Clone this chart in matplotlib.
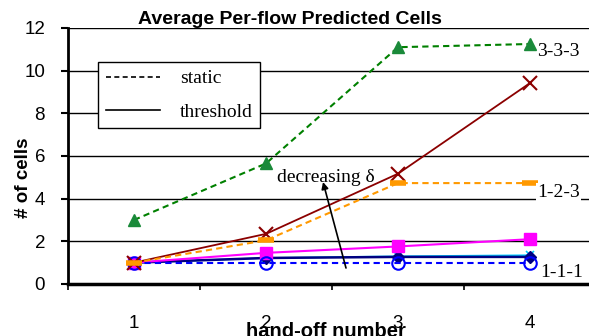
import matplotlib.pyplot as plt
from matplotlib.lines import Line2D

# hand-off number on x, predicted cells on y
handoffs = [1, 2, 3, 4]
static_333 = [3.0, 5.65, 11.1, 11.25]
static_123 = [1.0, 2.05, 4.73, 4.73]
static_111 = [1.0, 1.0, 1.0, 1.0]
thresh_a = [1.0, 2.35, 5.17, 9.42]
thresh_b = [1.0, 1.46, 1.76, 2.1]
thresh_c = [1.0, 1.22, 1.27, 1.27]
thresh_d = [1.0, 1.22, 1.3, 1.35]
yticks = [0, 2, 4, 6, 8, 10, 12]

plt.rcParams['font.family'] = 'Liberation Sans'
serif = 'Liberation Serif'

fig = plt.figure(figsize=(5.89, 3.36), dpi=100)
ax = fig.add_axes([68 / 589, 52 / 336, 528 / 589, 256 / 336])

for y in yticks[1:]:
    ax.axhline(y, color='black', lw=1.0, zorder=1)

ax.plot(handoffs, thresh_d, color='#00ccff', lw=1.2, marker='x', ms=6,
        mew=1.2, zorder=2)
ax.plot(handoffs, thresh_c, color='#000080', lw=1.8, marker='D', ms=6,
        mfc='#000080', mec='#000080', zorder=2.5)
ax.plot(handoffs, thresh_b, color='#ff00ff', lw=1.5, marker='s', ms=9,
        mfc='#ff00ff', mec='#ff00ff', zorder=3)
ax.plot(handoffs, static_111, color='#0000ff', lw=1.5, ls=(0, (3, 2)),
        marker='o', ms=9, mfc='none', mec='#0000ff', mew=1.5, zorder=4)
ax.plot(handoffs, thresh_a, color='#8b0000', lw=1.3, marker='x', ms=10,
        mew=1.5, zorder=4)
ax.plot(handoffs, static_123, color='#ff9900', lw=1.5, ls=(0, (3, 2)),
        marker='_', ms=11, mew=4, mec='#ff9900', zorder=5)
ax.plot(handoffs, static_333, color='#008000', lw=1.5, ls=(0, (3, 2)),
        marker='^', ms=9, mfc='#1a8a3a', mec='#1a8a3a', zorder=5)

ax.set_xlim(0.5, 4.5)
ax.set_ylim(0, 12)
ax.set_yticks(yticks)
ax.tick_params(axis='y', direction='out', length=5, width=1.5, pad=11.5, labelsize=13.5)

ax.set_xticks([0.5, 1.5, 2.5, 3.5, 4.5])
ax.set_xticklabels([])
ax.set_xticks(handoffs, minor=True)
ax.set_xticklabels([str(h) for h in handoffs], minor=True)
ax.tick_params(axis='x', which='major', direction='out', length=4, width=1.2)
ax.tick_params(axis='x', which='minor', length=0, pad=22, labelsize=13.5)

for side in ['top', 'right']:
    ax.spines[side].set_visible(False)
ax.spines['left'].set_linewidth(2)
ax.spines['bottom'].set_linewidth(2.5)

ax.set_xlabel('hand-off number', fontsize=14.5, fontweight='bold')
ax.xaxis.set_label_coords(0.489, -0.148)
ax.set_ylabel('# of cells', fontsize=13.5, fontweight='bold')
ax.yaxis.set_label_coords(-0.068, 0.414)

fig.text(290 / 589, 1 - 20 / 336, 'Average Per-flow Predicted Cells',
         ha='center', va='center', fontsize=14, fontweight='bold', zorder=10)

handles = [Line2D([], [], color='black', lw=1.2, ls=(0, (3, 2))),
           Line2D([], [], color='black', lw=1.2)]
leg = ax.legend(handles, ['static', 'threshold'], loc='upper left',
                bbox_to_anchor=(98 / 589, 1 - 62 / 336),
                bbox_transform=fig.transFigure, borderaxespad=0,
                prop={'family': serif, 'size': 14}, fancybox=False,
                framealpha=1, edgecolor='black', handlelength=2.8,
                handletextpad=1.0, labelspacing=0.8, borderpad=0.4)
leg.get_frame().set_linewidth(1.0)
leg.set_zorder(6)

box = dict(facecolor='white', edgecolor='none', pad=1)
ax.text(4.053, 10.88, '3-3-3', family=serif, fontsize=14, va='center', zorder=6)
ax.text(4.053, 4.27, '1-2-3', family=serif, fontsize=14, va='center',
        bbox=box, zorder=6)
ax.text(4.076, 0.56, '1-1-1', family=serif, fontsize=14, va='center', zorder=6)
ax.text(2.083, 4.97, 'decreasing δ', family=serif, fontsize=14, va='center', zorder=6)
ax.annotate('', xy=(2.432, 4.78), xytext=(2.606, 0.75),
            arrowprops=dict(arrowstyle='-|>', color='black', lw=1.2,
                            mutation_scale=10, shrinkA=0, shrinkB=0), zorder=6)

fig.savefig('out.png', dpi=100)
